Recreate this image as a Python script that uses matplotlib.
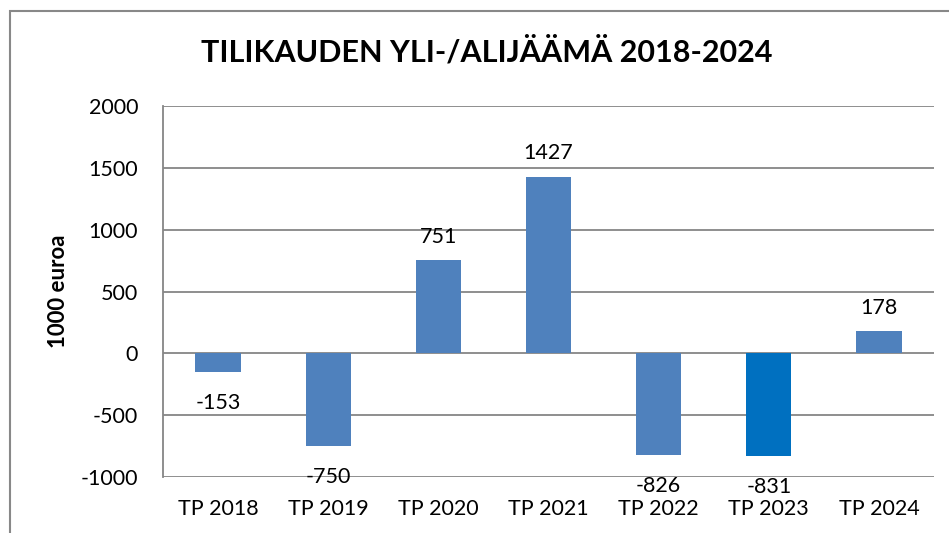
import matplotlib.pyplot as plt
import matplotlib.patches as patches

# Data
luokat = ["TP 2018", "TP 2019", "TP 2020", "TP 2021", "TP 2022", "TP 2023", "TP 2024"]
arvot = [-153, -750, 751, 1427, -826, -831, 178]
varit = ["#4F81BD", "#4F81BD", "#4F81BD", "#4F81BD", "#4F81BD", "#0070C0", "#4F81BD"]

plt.rcParams['font.family'] = ['Lato', 'DejaVu Sans']
plt.rcParams['axes.unicode_minus'] = False

fig = plt.figure(figsize=(9.49, 5.33), dpi=100)
ax = fig.add_axes([163 / 949, 56 / 533, (934 - 163) / 949, (477 - 106) / 533])

x = range(len(luokat))
ax.bar(x, arvot, width=0.41, color=varit, zorder=3)

for i, v in enumerate(arvot):
    off = 17 if v >= 0 else -22
    ax.annotate(str(v), (i, v), xytext=(0, off), textcoords='offset points',
                ha='center', va='center', fontsize=15.5, zorder=4)

ax.set_xlim(-0.5, len(luokat) - 0.5)
ax.set_ylim(-1000, 2000)
ax.set_yticks(range(-1000, 2001, 500))
ax.set_xticks(list(x))
ax.set_xticklabels(luokat)
ax.tick_params(axis='both', length=0, labelsize=15.5)
ax.tick_params(axis='y', pad=18)
ax.tick_params(axis='x', pad=16)
ax.grid(axis='y', color='#868686', linewidth=1.3, zorder=0)

for s in ['top', 'right', 'bottom']:
    ax.spines[s].set_visible(False)
ax.spines['left'].set_color('#868686')
ax.spines['left'].set_linewidth(1.3)

ax.set_ylabel("1000 euroa", fontsize=16, fontweight='bold', labelpad=8)

fig.text(487 / 949, 1 - 52 / 533, "TILIKAUDEN YLI-/ALIJÄÄMÄ 2018-2024",
         ha='center', va='center', fontsize=22, fontweight='bold')

# Kaavion reunus
reunus = patches.Rectangle((10 / 949, -0.1), 1.2, 1.1 - 11 / 533,
                           transform=fig.transFigure, fill=False,
                           edgecolor='#888888', linewidth=1.5)
fig.patches.append(reunus)

fig.savefig("out.png", dpi=100)
